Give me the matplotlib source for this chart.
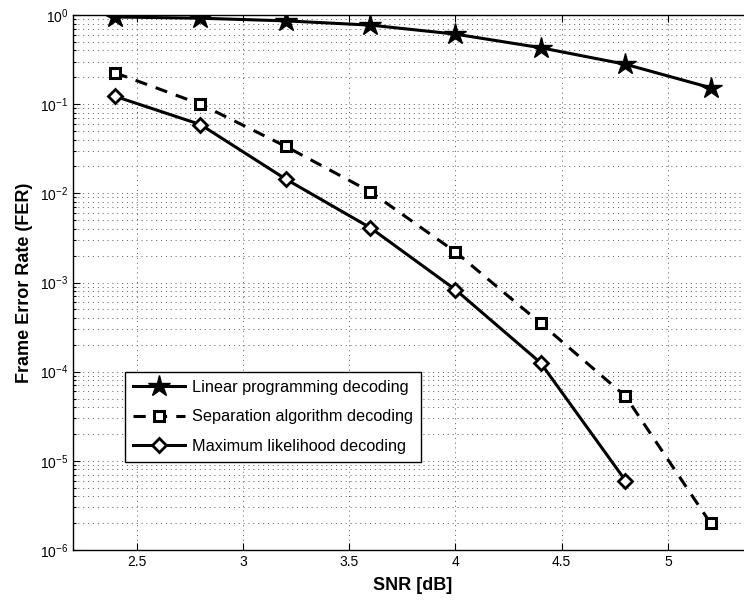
import math
import matplotlib
matplotlib.use("Agg")
import matplotlib.pyplot as plt
from matplotlib.ticker import FixedLocator, NullFormatter, FuncFormatter

plt.rcParams['font.family'] = ['Liberation Sans', 'DejaVu Sans']
plt.rcParams['mathtext.fontset'] = 'custom'
plt.rcParams['mathtext.rm'] = 'Liberation Sans'
plt.rcParams['mathtext.it'] = 'Liberation Sans:italic'
plt.rcParams['mathtext.bf'] = 'Liberation Sans:bold'

snr = [2.4, 2.8, 3.2, 3.6, 4.0, 4.4, 4.8, 5.2]
fer_lp = [0.95, 0.92, 0.86, 0.77, 0.61, 0.43, 0.28, 0.153]
snr_sep = [2.4, 2.8, 3.2, 3.6, 4.0, 4.4, 4.8, 5.2]
fer_sep = [0.224, 0.100, 0.0337, 0.0104, 0.0022, 3.5e-4, 5.3e-5, 2.0e-6]
snr_ml = [2.4, 2.8, 3.2, 3.6, 4.0, 4.4, 4.8]
fer_ml = [0.122, 0.059, 0.0145, 0.0041, 8.3e-4, 1.26e-4, 6.0e-6]

labels = ['Linear programming decoding', 'Separation algorithm decoding',
          'Maximum likelihood decoding']
xticks = [2.5, 3, 3.5, 4, 4.5, 5]
xticklabels = ['2.5', '3', '3.5', '4', '4.5', '5']
ydecades = [-6, -5, -4, -3, -2, -1, 0]

W, H = 744, 601
fig = plt.figure(figsize=(W / 100, H / 100), dpi=100)
ax = fig.add_axes([73 / W, (H - 550) / H, (753 - 73) / W, (550 - 15) / H])

ax.plot(snr, fer_lp, '-', color='k', lw=2.2, marker='*', ms=16, mfc='k', mec='k',
        label=labels[0], zorder=5)
ax.plot(snr_sep, fer_sep, '--', color='k', lw=2.2, dashes=(4, 3), marker='s', ms=7,
        mfc='white', mec='k', mew=2.2, label=labels[1], zorder=5)
ax.plot(snr_ml, fer_ml, '-', color='k', lw=2.2, marker='D', ms=7.5, mfc='white',
        mec='k', mew=2, label=labels[2], zorder=5)

ax.set_yscale('log')
ax.set_xlim(2.2, 5.4)
ax.set_ylim(1e-6, 1)
ax.xaxis.set_major_locator(FixedLocator(xticks))
ax.set_xticklabels(xticklabels)
ax.yaxis.set_major_locator(FixedLocator([10.0 ** d for d in ydecades]))
ax.yaxis.set_minor_locator(FixedLocator(
    [m * 10.0 ** d for d in ydecades[:-1] for m in range(2, 10)]))
ax.yaxis.set_minor_formatter(NullFormatter())
ax.yaxis.set_major_formatter(FuncFormatter(
    lambda v, p: r'$\mathregular{10^{%d}}$' % round(math.log10(v))))

ax.grid(True, which='major', axis='both', color='0.35', linestyle=(0, (1, 4)), lw=0.7)
ax.grid(True, which='minor', axis='y', color='0.35', linestyle=(0, (1, 4)), lw=0.7)
ax.tick_params(which='both', direction='in', top=True, right=True, labelsize=10,
               width=0.8, colors='k')
ax.tick_params(which='major', length=5)
ax.tick_params(which='minor', length=2.5)
for s in ax.spines.values():
    s.set_linewidth(1.0)

ax.set_xlabel('SNR [dB]', fontsize=13, fontweight='bold', labelpad=6)
ax.set_ylabel('Frame Error Rate (FER)', fontsize=13, fontweight='bold', labelpad=5)

leg = ax.legend(loc='lower left', bbox_to_anchor=((125 - 73) / 680, (550 - 462) / 535),
                borderaxespad=0, fancybox=False, framealpha=1, edgecolor='k',
                fontsize=11.7, handlelength=3.2, labelspacing=0.9,
                borderpad=0.5, handletextpad=0.4)
leg.get_frame().set_linewidth(1.0)

fig.savefig('out.png', dpi=100)
